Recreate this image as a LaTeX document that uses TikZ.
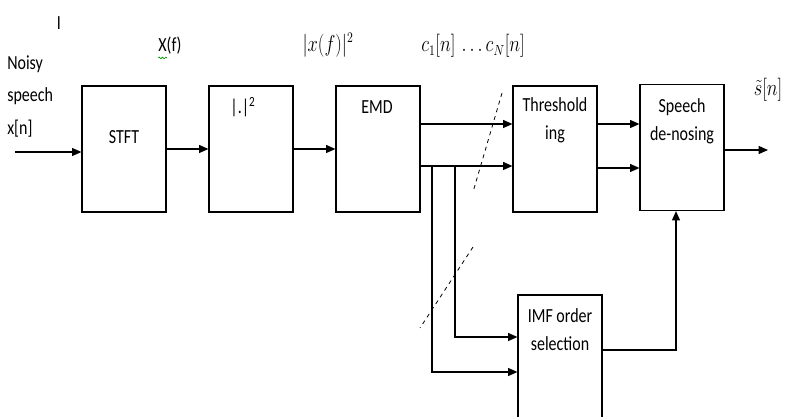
\documentclass[tikz,border=0pt]{standalone}
\usepackage{fontspec}
\setmainfont{Carlito}[FakeStretch=0.8]
\usetikzlibrary{arrows.meta,calc,positioning,decorations.pathmorphing}
\newcommand\narrow[1]{\scalebox{.8}[1]{#1}}
\begin{document}
\begin{tikzpicture}[x=.75pt,y=-.75pt,line join=miter,
  blk/.style={draw,line width=.9pt,minimum width=63pt,minimum height=94.5pt,inner sep=0pt},
  txt/.style={font=\fontsize{15}{21}\selectfont,align=center,inner sep=0pt},
  mth/.style={font=\fontsize{16}{18}\selectfont,inner sep=0pt},
  wire/.style={line width=.9pt},
  >={Triangle[length=7pt,width=6pt]}]
\useasboundingbox(0,0)rectangle(786,417);
\node[blk](stft)at(124,149){};
\node[blk](sq)at(251,149){};
\node[blk](emd)at(378,149){};
\node[blk](thr)at(555,149){};
\node[blk](den)at(682,147.5){};
\node[blk](imf)at(560,358){};
\node[txt](tstft)at($(stft.north)+(0,52)$){STFT};
\node[txt](tsq)at($(sq.north)+(-8,22)$){|.|\textsuperscript{2}};
\node[txt](temd)at($(emd.north)+(-1,22)$){EMD};
\node[txt,anchor=north](tthr)at($(thr.north)+(0,12)$){Threshold\\ing};
\node[txt,anchor=north](tden)at($(den.north)+(0,14)$){Speech\\de-nosing};
\node[txt,anchor=north](timf)at($(imf.north)+(0,14)$){IMF order\\selection};
\node[txt,anchor=north west,align=left,font=\fontsize{15}{24.5}\selectfont](noisy)at(7,55){Noisy\\speech\\x[n]};
\node[txt](bar)at(59,23){I};
\node[txt](xf)at(170,46){X(f)};
\draw[green!60!black,line width=.5pt,decorate,decoration={snake,amplitude=.6pt,segment length=2.5pt}]
  (xf.south west)++(0,3)--++(9,0);
\node[mth](xf2)at(328,45){\narrow{$|x(f)|^2$}};
\node[mth](cn)at(473,46){\narrow{$c_1[n]\,\ldots c_N[n]$}};
\node[mth](sn)at(768,90){\narrow{$\tilde{s}[n]$}};
\coordinate(in)at(15,152);
\coordinate(out)at(768,150);
\draw[wire,->](in)--(in-|stft.west);
\draw[wire,->](stft)--(sq);
\draw[wire,->](sq)--(emd);
\draw[wire,->]($(emd.east)+(0,-25)$)--($(thr.west)+(0,-25)$);
\draw[wire,->]($(emd.east)+(0,17)$)--($(thr.west)+(0,17)$);
\draw[wire,->]($(thr.east)+(0,-25)$)--($(den.west)+(0,-23.5)$);
\draw[wire,->]($(thr.east)+(0,19)$)--($(den.west)+(0,20.5)$);
\draw[wire,->](den.east|-out)--(out);
\coordinate(b1)at(432,166);
\coordinate(b2)at(455,166);
\draw[wire,->](b1)|-($(imf.west)+(0,14)$);
\draw[wire,->](b2)|-($(imf.west)+(0,-21)$);
\draw[wire,->]($(imf.east)+(0,-8)$)-|($(den.south)+(-6,0)$);
\draw[dashed,line width=.6pt](502,93)--(473,192);
\draw[dashed,line width=.6pt](473,247)--(420,328);
\end{tikzpicture}
\end{document}
